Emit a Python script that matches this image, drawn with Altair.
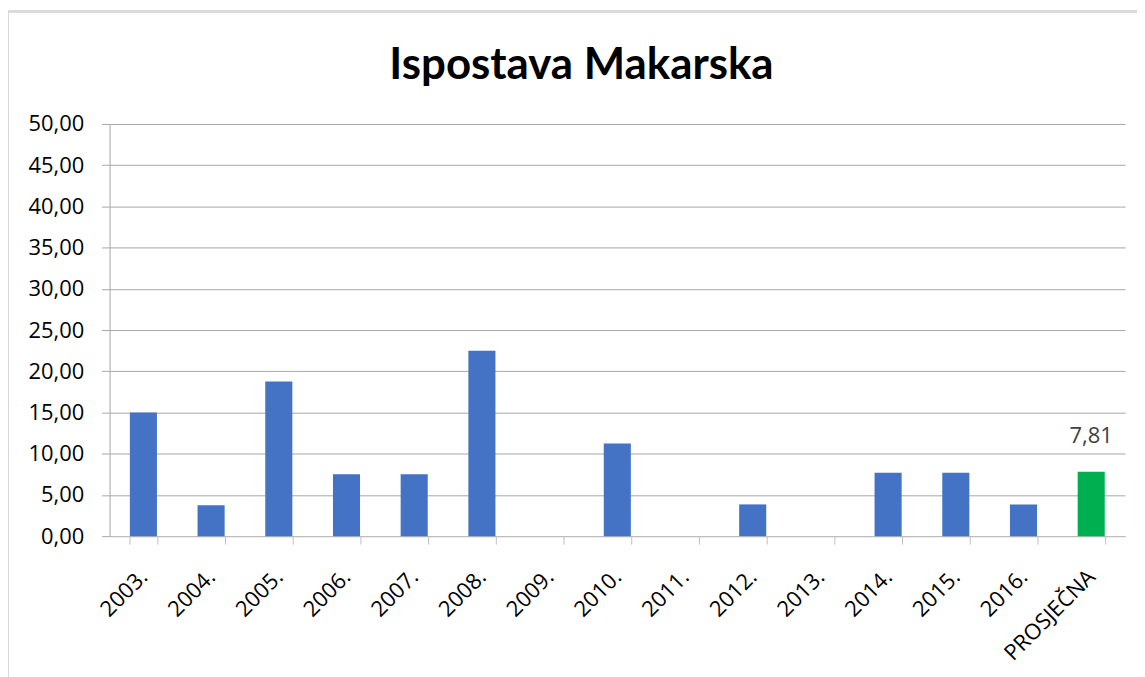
import altair as alt
import pandas as pd

categories = ["2003.", "2004.", "2005.", "2006.", "2007.", "2008.", "2009.",
              "2010.", "2011.", "2012.", "2013.", "2014.", "2015.", "2016.", "PROSJEČNA"]
values = [15.00, 3.75, 18.75, 7.50, 7.50, 22.50, 0.0,
          11.25, 0.0, 3.85, 0.0, 7.69, 7.69, 3.85, 7.81]
kinds = ["year"] * 14 + ["avg"]
value_labels = [""] * 14 + ["7,81"]
title_text = ["Ispostava Makarska"]

df = pd.DataFrame({"cat": categories, "val": values, "kind": kinds, "lab": value_labels})
title_df = pd.DataFrame({"t": title_text})

FONT = "Open Sans"

x_enc = alt.X("cat:N", sort=categories, title=None,
              scale=alt.Scale(paddingInner=0.6, paddingOuter=0.3),
              axis=alt.Axis(labelAngle=-45, labelAlign="right", labelBaseline="middle",
                            labelFontSize=22, labelFont=FONT, labelColor="#000000",
                            labelPadding=29, tickBand="extent", tickSize=8,
                            tickColor="#bfbfbf", domainColor="#bfbfbf", grid=False,
                            labelOverlap=False))
y_enc = alt.Y("val:Q", title=None,
              scale=alt.Scale(domain=[0, 50], nice=False),
              axis=alt.Axis(values=[0, 5, 10, 15, 20, 25, 30, 35, 40, 45, 50],
                            labelExpr="replace(format(datum.value, '.2f'), '.', ',')",
                            labelFontSize=22, labelFont=FONT, labelColor="#000000",
                            labelPadding=18, tickSize=8, tickColor="#a6a6a6",
                            domainColor="#a6a6a6", gridColor="#a6a6a6", gridWidth=1))

bars = alt.Chart(df).mark_bar().encode(
    x=x_enc,
    y=y_enc,
    color=alt.Color("kind:N", scale=alt.Scale(domain=["year", "avg"],
                                              range=["#4472C4", "#00B050"]), legend=None),
)

labels = alt.Chart(df).transform_filter("datum.lab != ''").mark_text(
    fontSize=22, font=FONT, color="#404040", dy=-36, baseline="middle"
).encode(
    x=alt.X("cat:N", sort=categories),
    y=alt.Y("val:Q"),
    text="lab:N",
)

title = alt.Chart(title_df).mark_text(
    fontSize=44, font="Lato", fontWeight="bold", color="#000000",
    align="center", baseline="alphabetic"
).encode(x=alt.value(474), y=alt.value(-45), text="t:N")

border_top = alt.Chart(df).mark_rule(color="#d9d9d9", strokeWidth=1.5).encode(
    x=alt.value(-102), x2=alt.value(1040), y=alt.value(-113))
border_left = alt.Chart(df).mark_rule(color="#d9d9d9", strokeWidth=1.5).encode(
    x=alt.value(-102), y=alt.value(-113), y2=alt.value(560))

chart = alt.layer(bars, labels, title, border_top, border_left).properties(
    width=1020, height=414,
    autosize=alt.AutoSizeParams(type="none"),
    padding={"left": 102, "top": 115, "right": 12, "bottom": 140},
).configure_view(stroke=None)

chart.save("out.html", embed_options={"renderer": "svg", "actions": False})
